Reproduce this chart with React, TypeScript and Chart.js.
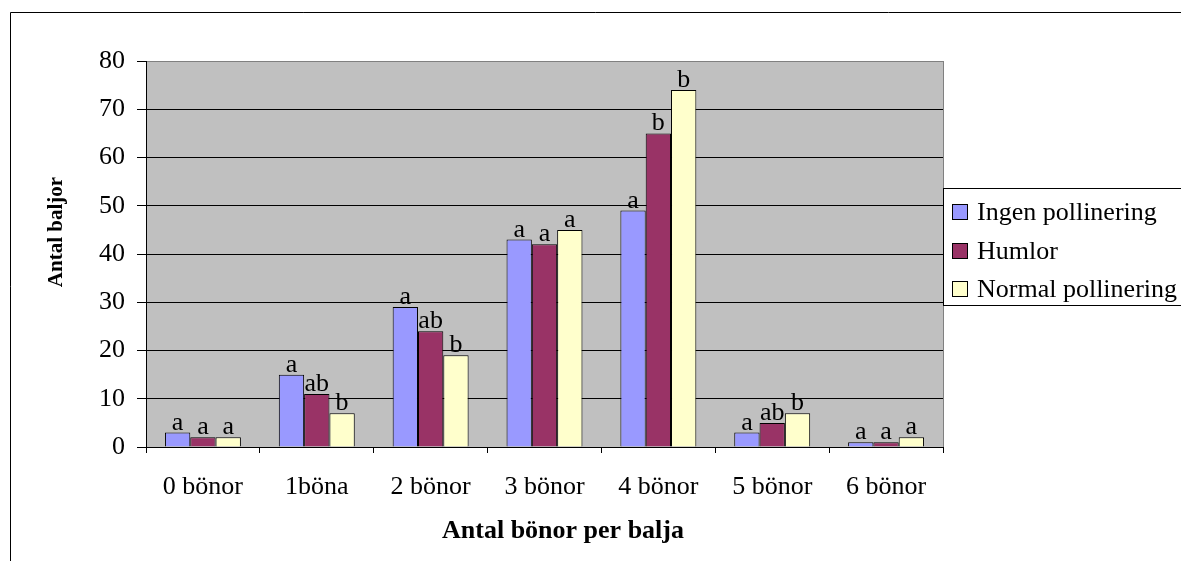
import React, { useEffect, useRef } from 'react';
import { Chart, registerables } from 'chart.js';

Chart.register(...registerables);

const categories = ['0 bönor', '1böna', '2 bönor', '3 bönor', '4 bönor', '5 bönor', '6 bönor'];
const seriesNames = ['Ingen pollinering', 'Humlor', 'Normal pollinering'];
const ingenValues = [3, 15, 29, 43, 49, 3, 1];
const humlorValues = [2, 11, 24, 42, 65, 5, 1];
const normalValues = [2, 7, 19, 45, 74, 7, 2];
const ingenLetters = ['a', 'a', 'a', 'a', 'a', 'a', 'a'];
const humlorLetters = ['a', 'ab', 'ab', 'a', 'b', 'ab', 'a'];
const normalLetters = ['a', 'b', 'b', 'a', 'b', 'b', 'a'];
const yMin = 0;
const yMax = 80;
const yStep = 10;
const xTitle = 'Antal bönor per balja';
const yTitle = 'Antal baljor';

const SERIF = "'Liberation Serif', 'Times New Roman', serif";
const colors = ['#9999FF', '#993366', '#FFFFCC'];
const letterSets = [ingenLetters, humlorLetters, normalLetters];

export default function App() {
  const ref = useRef<HTMLCanvasElement | null>(null);

  useEffect(() => {
    const canvas = ref.current;
    if (!canvas) return;

    const framePlugin = {
      id: 'framePlugin',
      beforeDraw(chart: any) {
        const { ctx, chartArea } = chart;
        ctx.save();
        ctx.fillStyle = '#FFFFFF';
        ctx.fillRect(0, 0, chart.width, chart.height);
        ctx.strokeStyle = '#000000';
        ctx.lineWidth = 1;
        ctx.beginPath();
        ctx.moveTo(10.5, chart.height);
        ctx.lineTo(10.5, 12.5);
        ctx.lineTo(chart.width, 12.5);
        ctx.stroke();
        ctx.fillStyle = '#C0C0C0';
        ctx.fillRect(chartArea.left, chartArea.top, chartArea.right - chartArea.left, chartArea.bottom - chartArea.top);
        ctx.strokeStyle = '#808080';
        ctx.strokeRect(chartArea.left + 0.5, chartArea.top + 0.5, chartArea.right - chartArea.left, chartArea.bottom - chartArea.top);
        ctx.restore();
      },
    };

    const lettersPlugin = {
      id: 'lettersPlugin',
      afterDatasetsDraw(chart: any) {
        const { ctx } = chart;
        ctx.save();
        ctx.fillStyle = '#000000';
        ctx.font = `26px ${SERIF}`;
        ctx.textAlign = 'center';
        ctx.textBaseline = 'alphabetic';
        chart.data.datasets.forEach((ds: any, di: number) => {
          const meta = chart.getDatasetMeta(di);
          meta.data.forEach((el: any, i: number) => {
            ctx.fillText(letterSets[di][i], el.x, el.y - 3);
          });
        });
        ctx.restore();
      },
    };

    const titlesPlugin = {
      id: 'titlesPlugin',
      afterDraw(chart: any) {
        const { ctx } = chart;
        ctx.save();
        ctx.fillStyle = '#000000';
        ctx.textAlign = 'center';
        ctx.textBaseline = 'alphabetic';
        ctx.font = `bold 26px ${SERIF}`;
        ctx.fillText(xTitle, 563, 538);
        ctx.translate(62, 232);
        ctx.rotate(-Math.PI / 2);
        ctx.font = `bold 21px ${SERIF}`;
        ctx.fillText(yTitle, 0, 0);
        ctx.restore();
      },
    };

    const legendPlugin = {
      id: 'legendPlugin',
      afterDraw(chart: any) {
        const { ctx } = chart;
        const x0 = 943;
        const y0 = 188;
        const y1 = 305;
        ctx.save();
        ctx.fillStyle = '#FFFFFF';
        ctx.fillRect(x0, y0, chart.width - x0, y1 - y0);
        ctx.strokeStyle = '#000000';
        ctx.lineWidth = 1;
        ctx.strokeRect(x0 + 0.5, y0 + 0.5, chart.width - x0 + 2, y1 - y0);
        ctx.font = `26px ${SERIF}`;
        ctx.textBaseline = 'alphabetic';
        ctx.textAlign = 'left';
        chart.data.datasets.forEach((ds: any, i: number) => {
          const base = Math.round(220 + i * 38.5);
          ctx.fillStyle = ds.backgroundColor;
          ctx.fillRect(952.5, base - 15.5, 15, 15);
          ctx.strokeStyle = '#000000';
          ctx.strokeRect(952.5, base - 15.5, 15, 15);
          ctx.fillStyle = '#000000';
          ctx.fillText(ds.label, 977, base);
        });
        ctx.restore();
      },
    };

    const chart = new Chart(canvas, {
      type: 'bar',
      data: {
        labels: categories,
        datasets: [ingenValues, humlorValues, normalValues].map((vals, i) => ({
          label: seriesNames[i],
          data: vals,
          backgroundColor: colors[i],
          borderColor: '#000000',
          borderWidth: 1,
          categoryPercentage: 0.667,
          barPercentage: 1,
        })),
      },
      options: {
        responsive: false,
        animation: false,
        layout: { padding: { left: 0, top: 61, right: 238, bottom: 0 } },
        plugins: {
          legend: { display: false },
          tooltip: { enabled: false },
        },
        scales: {
          x: {
            afterFit(scale: any) {
              scale.height = 114;
            },
            grid: {
              offset: true,
              drawOnChartArea: false,
              drawTicks: true,
              tickLength: 6,
              color: '#000000',
            },
            border: { color: '#000000', width: 1 },
            ticks: {
              color: '#000000',
              font: { family: SERIF, size: 26 },
              padding: 19,
              maxRotation: 0,
              autoSkip: false,
            },
          },
          y: {
            min: yMin,
            max: yMax,
            afterFit(scale: any) {
              scale.width = 146;
            },
            grid: {
              color: (c: any) => (c.tick && c.tick.value === yMax ? '#808080' : '#000000'),
              drawTicks: true,
              tickLength: 9,
              tickColor: '#000000',
            },
            border: { color: '#000000', width: 1 },
            ticks: {
              stepSize: yStep,
              color: '#000000',
              font: { family: SERIF, size: 26 },
              padding: 12,
            },
          },
        },
      },
      plugins: [framePlugin, lettersPlugin, titlesPlugin, legendPlugin],
    } as any);

    return () => {
      chart.destroy();
    };
  }, []);

  return (
    <div style={{ position: 'absolute', left: 0, top: 0, width: 1181, height: 561, background: '#fff' }}>
      <canvas ref={ref} width={1181} height={561} style={{ width: 1181, height: 561, display: 'block' }} />
    </div>
  );
}
